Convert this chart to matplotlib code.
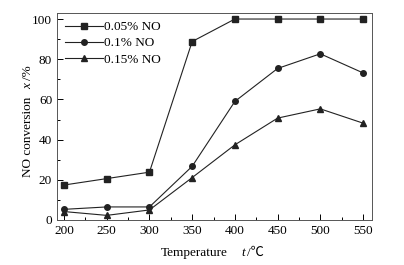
import matplotlib
matplotlib.use("Agg")
import matplotlib.pyplot as plt
from matplotlib.ticker import MultipleLocator

plt.rcParams['font.family'] = ['Liberation Serif', 'DejaVu Serif']

temps = [200, 250, 300, 350, 400, 450, 500, 550]
no_005 = [17.4, 20.6, 23.8, 88.8, 100, 100, 100, 100]
no_01 = [5.3, 6.5, 6.5, 26.7, 59.0, 75.4, 82.7, 73.2]
no_015 = [4.2, 2.3, 5.0, 21.1, 37.4, 50.7, 55.3, 48.2]
labels = ["0.05% NO", "0.1% NO", "0.15% NO"]

W, H = 404, 265
fig = plt.figure(figsize=(W / 100, H / 100), dpi=100)
ax = fig.add_axes([57 / W, 45 / H, 315 / W, 207 / H])

kw = dict(color='#222222', lw=0.8, ms=4)
ax.plot(temps, no_005, marker='s', label=labels[0], **kw)
ax.plot(temps, no_01, marker='o', label=labels[1], **kw)
ax.plot(temps, no_015, marker='^', label=labels[2], **kw)

ax.set_xlim(191.8, 560.5)
ax.set_ylim(0, 103)
ax.xaxis.set_major_locator(MultipleLocator(50))
ax.xaxis.set_minor_locator(MultipleLocator(25))
ax.yaxis.set_major_locator(MultipleLocator(20))
ax.yaxis.set_minor_locator(MultipleLocator(10))
ax.tick_params(which='both', direction='in', top=False, right=False, labelsize=9.5)
ax.tick_params(which='major', length=4, width=0.7)
ax.tick_params(which='minor', length=2, width=0.7)
for s in ax.spines.values():
    s.set_linewidth(0.7)
    s.set_color('#555555')

# axis titles built from pieces so the italic symbol and the ℃ sign render
fs = 9.5
serif_cjk = ['Liberation Serif', 'Noto Sans CJK SC']
fig.text(194 / W, 1 - 253 / H, "Temperature", ha='center', va='center', fontsize=fs)
fig.text(243 / W, 1 - 253 / H, "t", ha='center', va='center', fontsize=fs, style='italic')
fig.text(247 / W, 1 - 253 / H, "/℃", ha='left', va='center', fontsize=fs, family=serif_cjk)
fig.text(28 / W, 1 - 137 / H, "NO conversion", ha='center', va='center', fontsize=fs, rotation=90)
fig.text(28 / W, 1 - 86 / H, "x", ha='center', va='center', fontsize=fs, rotation=90, style='italic')
fig.text(28 / W, 1 - 80 / H, "/%", ha='center', va='bottom', fontsize=fs, rotation=90)

ax.legend(loc='upper left', frameon=False, fontsize=fs, handlelength=2.9,
          handletextpad=0.1, labelspacing=0.3, borderaxespad=0.3,
          borderpad=0.3)

fig.savefig("out.png", dpi=100)
